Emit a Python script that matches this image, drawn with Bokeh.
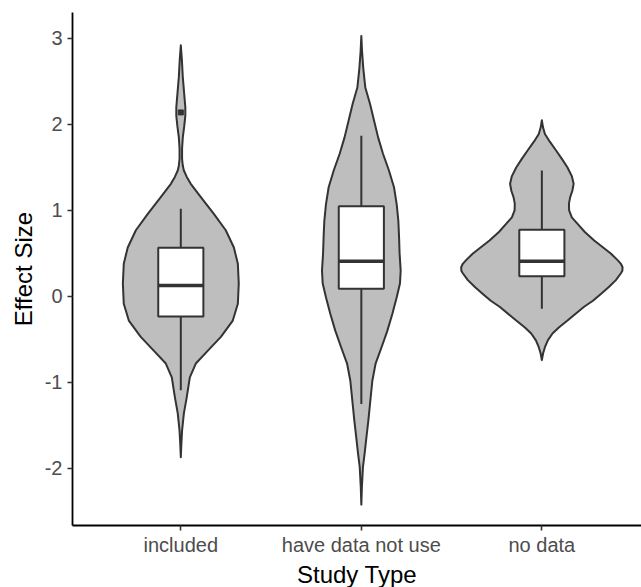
from bokeh.plotting import figure
from bokeh.models import Range1d, FixedTicker, Title
from bokeh.embed import file_html
from bokeh.resources import INLINE

# ---- data -------------------------------------------------------------
categories = ["included", "have data not use", "no data"]
positions = [1, 2, 3]

# violin outlines: effect-size level and half width (x units) at that level
included_y = [2.92, 2.75, 2.55, 2.35, 2.20, 2.10, 1.98, 1.85, 1.72, 1.60, 1.52,
              1.465, 1.39, 1.31, 1.155, 0.96, 0.77, 0.57, 0.38, 0.15, -0.085,
              -0.28, -0.47, -0.63, -0.78, -0.94, -1.17, -1.36, -1.56, -1.72, -1.87]
included_hw = [0.0, 0.006, 0.011, 0.019, 0.025, 0.025, 0.019, 0.011, 0.007, 0.007, 0.011,
               0.017, 0.033, 0.055, 0.111, 0.183, 0.249, 0.294, 0.316, 0.321, 0.316,
               0.288, 0.222, 0.150, 0.083, 0.050, 0.033, 0.017, 0.007, 0.003, 0.0]

have_data_y = [3.03, 2.85, 2.65, 2.43, 2.24, 2.05, 1.85, 1.66, 1.465, 1.27, 1.07,
               0.88, 0.69, 0.50, 0.30, 0.15, -0.01, -0.20, -0.40, -0.59, -0.78,
               -0.98, -1.25, -1.44, -1.64, -1.83, -1.98, -2.22, -2.42]
have_data_hw = [0.0, 0.004, 0.011, 0.022, 0.048, 0.070, 0.093, 0.120, 0.153, 0.181, 0.196,
                0.205, 0.209, 0.212, 0.218, 0.214, 0.196, 0.172, 0.144, 0.112, 0.079,
                0.061, 0.048, 0.039, 0.028, 0.018, 0.009, 0.003, 0.0]

no_data_y = [2.05, 1.97, 1.89, 1.80, 1.70, 1.60, 1.50, 1.40, 1.31, 1.23, 1.155,
             1.08, 1.00, 0.92, 0.845, 0.75, 0.65, 0.50, 0.42, 0.38, 0.34, 0.30, 0.27, 0.19,
             0.11, 0.03, -0.05, -0.12, -0.28, -0.36, -0.43, -0.51, -0.59, -0.66, -0.74]
no_data_hw = [0.0, 0.006, 0.017, 0.044, 0.078, 0.111, 0.142, 0.166, 0.176, 0.169, 0.157,
              0.150, 0.151, 0.166, 0.198, 0.238, 0.290, 0.382, 0.421, 0.438, 0.447, 0.446, 0.438, 0.410,
              0.371, 0.327, 0.283, 0.234, 0.142, 0.094, 0.059, 0.033, 0.017, 0.007, 0.0]

# box-plot summaries per study type
whisker_low = [-1.09, -1.25, -0.143]
q1 = [-0.233, 0.09, 0.236]
median = [0.128, 0.41, 0.41]
q3 = [0.566, 1.05, 0.775]
whisker_high = [1.02, 1.87, 1.465]
outlier_pos = [1]
outlier_y = [2.14]

y_ticks = [-2, -1, 0, 1, 2, 3]

# ---- styling ----------------------------------------------------------
FONT = "Liberation Sans"
DARK = "#333333"
FILL = "#BEBEBE"
BOX_W = 0.25
LW = 2.0

p = figure(
    width=641, height=587,
    frame_width=569, frame_height=513,
    min_border_left=72, min_border_right=0, min_border_top=12, min_border_bottom=0,
    x_range=Range1d(0.4, 3.552), y_range=Range1d(-2.663, 3.302),
    output_backend="svg", toolbar_location=None,
)
p.outline_line_color = None
p.xgrid.visible = False
p.ygrid.visible = False
p.background_fill_color = "white"
p.border_fill_color = "white"

# violins
profiles = [(included_y, included_hw), (have_data_y, have_data_hw), (no_data_y, no_data_hw)]
vx, vy = [], []
for pos, (ys, hws) in zip(positions, profiles):
    right = [pos + w for w in hws]
    left = [pos - w for w in reversed(hws)]
    vx.append(right + left)
    vy.append(list(ys) + list(reversed(ys)))
p.patches(xs=vx, ys=vy, fill_color=FILL, line_color=DARK, line_width=LW,
          line_join="round")

# whiskers
p.segment(x0=positions, y0=q3, x1=positions, y1=whisker_high, line_color=DARK, line_width=LW)
p.segment(x0=positions, y0=q1, x1=positions, y1=whisker_low, line_color=DARK, line_width=LW)

# boxes
p.vbar(x=positions, width=BOX_W, bottom=q1, top=q3, fill_color="white",
       line_color=DARK, line_width=LW)

# medians
p.segment(x0=[x - BOX_W / 2 for x in positions], y0=median,
          x1=[x + BOX_W / 2 for x in positions], y1=median,
          line_color=DARK, line_width=3.4)

# outliers
p.scatter(x=outlier_pos, y=outlier_y, marker="square", size=5,
          fill_color=DARK, line_color=DARK)

# axes
for ax in (p.xaxis[0], p.yaxis[0]):
    ax.axis_line_color = "black"
    ax.axis_line_width = 1.8
    ax.major_tick_line_color = DARK
    ax.major_tick_line_width = 1.6
    ax.major_tick_in = 0
    ax.major_tick_out = 5
    ax.minor_tick_line_color = None
    ax.major_label_text_font = FONT
    ax.major_label_text_font_size = "20px"
    ax.major_label_text_color = "#4D4D4D"
    ax.axis_label_text_font = FONT
    ax.axis_label_text_font_size = "24px"
    ax.axis_label_text_font_style = "normal"
    ax.axis_label_text_color = "black"

p.xaxis.ticker = FixedTicker(ticks=positions)
p.xaxis.major_label_overrides = {pos: name for pos, name in zip(positions, categories)}
p.xaxis.major_label_standoff = 3

p.yaxis.ticker = FixedTicker(ticks=y_ticks)
p.yaxis.major_label_overrides = {t: str(t) for t in y_ticks}
p.yaxis.major_label_standoff = 5
p.yaxis.axis_label = "Effect Size"
p.yaxis.axis_label_standoff = 5

# x title, centred on the full panel width (shifted right of the frame centre)
p.add_layout(Title(text="Study Type", align="center", offset=4, standoff=0,
                   text_font=FONT, text_font_size="24px", text_font_style="normal",
                   text_line_height=0.8, text_color="black"), "below")

open("out.html", "w").write(file_html(p, INLINE))
